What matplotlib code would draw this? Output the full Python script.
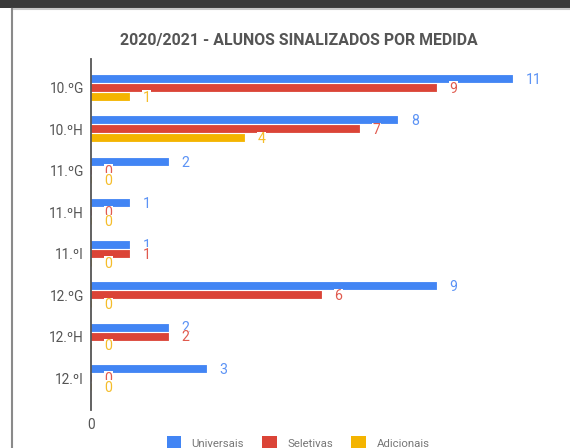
import matplotlib
matplotlib.use('Agg')
import numpy as np
import matplotlib.pyplot as plt
from matplotlib.patches import Patch, Rectangle
from matplotlib.lines import Line2D

turmas = ['10.ºG', '10.ºH', '11.ºG', '11.ºH', '11.ºI', '12.ºG', '12.ºH', '12.ºI']
universais = [11, 8, 2, 1, 1, 9, 2, 3]
seletivas = [9, 7, 0, 0, 1, 6, 2, 0]
adicionais = [1, 4, 0, 0, 0, 0, 0, 0]

series = [('Universais', universais, '#4285F4'),
          ('Seletivas', seletivas, '#DB4437'),
          ('Adicionais', adicionais, '#F4B400')]
label_cols = ['#5c93f5', '#e05a4e', '#f5bd2a']

plt.rcParams['font.family'] = ['Roboto', 'DejaVu Sans']

W, H = 570, 448
fig = plt.figure(figsize=(W / 100, H / 100), dpi=100)

# frame around the card
fig.add_artist(Rectangle((0, 1 - 8 / H), 1, 8 / H, transform=fig.transFigure,
                         color='#3a3a3a', lw=0))
fig.add_artist(Line2D([11.5 / W, 1], [1 - 9.5 / H, 1 - 9.5 / H],
                      transform=fig.transFigure, color='#c8c8c8', lw=1.5))
fig.add_artist(Line2D([11.5 / W, 11.5 / W], [0, 1 - 9.5 / H],
                      transform=fig.transFigure, color='#8a8a8a', lw=1.5))

px_per_unit = 38.3
ax_left, ax_top, ax_bottom = 91, 59, 410
ax = fig.add_axes([ax_left / W, (H - ax_bottom) / H,
                   12 * px_per_unit / W, (ax_bottom - ax_top) / H])

pitch = 41.43
y = np.arange(len(turmas))
off = 9 / pitch
bh = 7 / pitch
lab_dx = 13.5 / px_per_unit

for i, (name, vals, col) in enumerate(series):
    yy = y + (i - 1) * off - 0.5 / pitch
    ax.barh(yy, vals, height=bh, color=col, edgecolor=col, linewidth=0.6,
            joinstyle='round', label=name, zorder=2)
# value labels, each one masking the one drawn before it
for i, (name, vals, col) in enumerate(series):
    yy = y + (i - 1) * off + 0.8 / pitch
    for v, yv in zip(vals, yy):
        ax.text(v + lab_dx, yv, str(v), color=label_cols[i], fontsize=10.2,
                va='center', ha='left', zorder=3 + i,
                bbox=dict(facecolor='white', edgecolor='none', pad=0.3))

ax.set_xlim(0, 12)
ax.set_ylim(7 + (ax_bottom - 378) / pitch, -(88 - ax_top) / pitch)
ax.set_yticks(y)
ax.set_yticklabels(turmas, fontsize=9.8, color='#555555')
ax.set_xticks([0])
ax.set_xticklabels(['0'], fontsize=9.8, color='#555555')
ax.tick_params(axis='y', length=0, pad=5)
ax.tick_params(axis='x', length=0, pad=6)
for s in ['top', 'right', 'bottom']:
    ax.spines[s].set_visible(False)
ax.spines['left'].set_color('#555555')
ax.spines['left'].set_linewidth(1.3)

fig.text(298.5 / W, 1 - 40 / H, '2020/2021 - ALUNOS SINALIZADOS POR MEDIDA',
         ha='center', va='center', fontsize=11.4, fontweight='bold', color='#555555')

handles = [Patch(facecolor=c, edgecolor='none') for _, _, c in series]
fig.legend(handles, [n for n, _, _ in series], loc='upper center',
           bbox_to_anchor=(298 / W, 1 - 430 / H), ncol=3, frameon=False,
           fontsize=8.2, labelcolor='#777777', handlelength=1.3, handleheight=1.6,
           handletextpad=0.9, columnspacing=1.6, borderpad=0)

fig.savefig('out.png', dpi=100)
